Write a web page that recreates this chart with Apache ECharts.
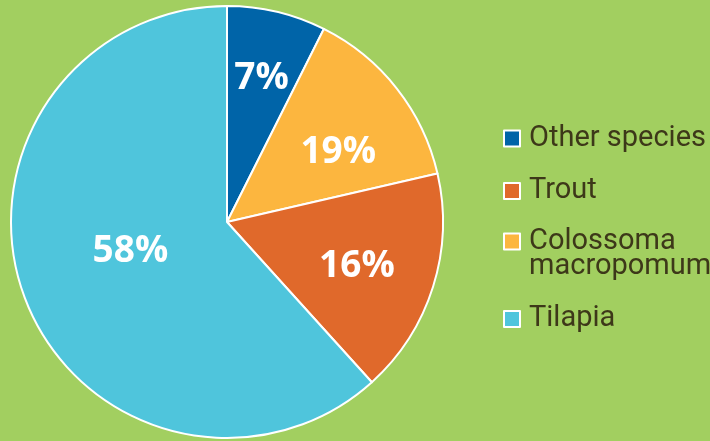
<!DOCTYPE html>
<html><head><meta charset="utf-8">
<script src="https://cdn.jsdelivr.net/npm/echarts@6/dist/echarts.min.js"></script>
<style>html,body{margin:0;padding:0;background:#a2cf60;}#c{width:710px;height:441px;}</style>
</head><body><div id="c"></div>
<script>
const categories = ['Other species', 'Colossoma\nmacropomum', 'Trout', 'Tilapia'];
const values = [7.4, 14.0, 16.9, 61.7];
const labelTexts = ['7%', '19%', '16%', '58%'];

const colors = ['#0064a8', '#fcb63f', '#e0692b', '#4fc5dc'];
const labelOffsets = [[9, -36], [24, -1], [24, 11], [7, -10]];

const legendText = {fontFamily: 'Roboto', fontSize: 29, color: '#3d3819', lineHeight: 25, padding: [0, 0, 0, 4]};
function legendBox(top, names, extra) {
  return Object.assign({
    orient: 'vertical', left: 503, top: top, padding: 0,
    itemWidth: 16, itemHeight: 16, itemGap: 23.5,
    itemStyle: {borderColor: '#ffffff', borderWidth: 2},
    icon: 'rect', textStyle: legendText, selectedMode: false,
    data: names
  }, extra || {});
}

const chart = echarts.init(document.getElementById('c'), null, {renderer: 'canvas'});
chart.setOption({
  backgroundColor: '#a2cf60',
  animation: false,
  legend: [
    legendBox(124, ['Other species', 'Trout']),
    // blank leading line keeps the icon level with the first text line
    legendBox(202, ['Colossoma\nmacropomum'], {formatter: n => ' \n' + n}),
    legendBox(304.5, ['Tilapia'])
  ],
  series: [{
    type: 'pie',
    center: [227, 222],
    radius: [0, 216],
    startAngle: 90,
    clockwise: true,
    itemStyle: {borderColor: '#ffffff', borderWidth: 2},
    label: {position: 'inside', color: '#ffffff', fontFamily: 'Open Sans', fontWeight: 'bold', fontSize: 37},
    labelLine: {show: false},
    data: categories.map((n, i) => ({
      name: n, value: values[i],
      itemStyle: {color: colors[i]},
      label: {formatter: labelTexts[i], offset: labelOffsets[i]}
    }))
  }]
});
</script></body></html>
